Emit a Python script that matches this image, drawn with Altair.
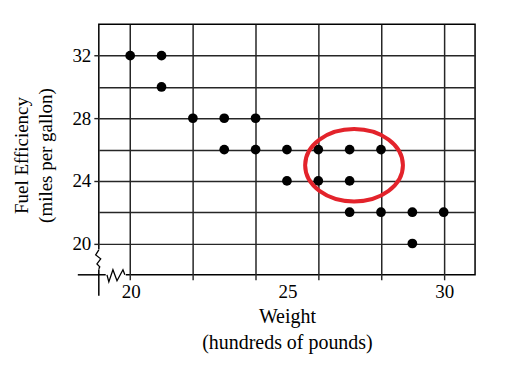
import altair as alt
import pandas as pd

# data points
weight = [20, 21, 21, 22, 23, 24, 23, 24, 25, 26, 27, 28, 25, 26, 27, 27, 28, 29, 30, 29]
mpg = [32, 32, 30, 28, 28, 28, 26, 26, 26, 26, 26, 26, 24, 24, 24, 22, 22, 22, 22, 20]

x_ticks = list(range(20, 31))
x_labels = [20, 25, 30]
y_grid = [20, 22, 24, 26, 28, 30, 32]

# highlighted group (ellipse centre)
ellipse_w = [27.14]
ellipse_m = [25.0]

# axis-break decorations (data units)
ybreak_w = [19, 18.90, 19.06, 18.94, 19.03, 19]
ybreak_m = [19.59, 19.27, 19.02, 18.70, 18.51, 18.38]
xbreak_w = [19.26, 19.32, 19.45, 19.58, 19.77, 19.83]
xbreak_m = [18, 17.55, 18.32, 17.62, 18.32, 18]
# white-out segments
gap_w = [19, 19.22]
gap_w2 = [19, 19.86]
gap_m = [19.62, 18]
gap_m2 = [18.35, 18]
# axis line extensions
ext_w = [19, 18.33]
ext_w2 = [19, 19]
ext_m = [18, 18]
ext_m2 = [16.66, 18]

FONT = "Liberation Serif"

df = pd.DataFrame({"weight": weight, "mpg": mpg})
xs = alt.Scale(domain=[19, 31], nice=False, zero=False)
ys = alt.Scale(domain=[18, 34], nice=False, zero=False)

points = alt.Chart(df).mark_circle(size=95, color="black", opacity=1).encode(
    x=alt.X("weight:Q", scale=xs, axis=alt.Axis(
        values=x_ticks,
        labels=False,
        grid=True, gridColor="#262626", gridWidth=1.5,
        domain=False, ticks=True, tickColor="#222222", tickSize=5, tickWidth=1.4,
        title=["Weight", "(hundreds of pounds)"],
        titleFont=FONT, titleFontSize=20, titleFontWeight="normal", titleColor="black",
        titleLineHeight=26, titleBaseline="alphabetic", titleAlign="center",
        titleX=188.5, titleY=48,
    )),
    y=alt.Y("mpg:Q", scale=ys, axis=alt.Axis(
        values=y_grid,
        labelExpr="datum.value % 4 == 0 ? datum.label : ''",
        labelOverlap=False,
        grid=True, gridColor="#262626", gridWidth=1.5,
        domain=False, ticks=True, tickColor="#222222", tickSize=5, tickWidth=1.4,
        tickOpacity={"condition": {"test": "datum.value % 4 == 0", "value": 1}, "value": 0},
        labelFont=FONT, labelFontSize=19, labelColor="black", labelPadding=3,
        title=["Fuel Efficiency", "(miles per gallon)"],
        titleFont=FONT, titleFontSize=19, titleFontWeight="normal", titleColor="black",
        titleLineHeight=24, titleBaseline="alphabetic", titleAlign="center",
        titleAngle=270, titleX=-71, titleY=131,
    )),
)

lab_df = pd.DataFrame({"weight": x_labels, "txt": [str(v) for v in x_labels]})
xlabels = alt.Chart(lab_df).mark_text(
    font=FONT, fontSize=19, color="black", baseline="top", align="center", dx=1
).encode(
    x=alt.X("weight:Q", scale=xs), y=alt.value(259), text="txt:N"
)

gap_df = pd.DataFrame({"weight": gap_w, "weight2": gap_w2, "mpg": gap_m, "mpg2": gap_m2})
gaps = alt.Chart(gap_df).mark_rule(color="white", strokeWidth=4).encode(
    x=alt.X("weight:Q", scale=xs), x2="weight2:Q",
    y=alt.Y("mpg:Q", scale=ys), y2="mpg2:Q",
)

ext_df = pd.DataFrame({"weight": ext_w, "weight2": ext_w2, "mpg": ext_m, "mpg2": ext_m2})
ext = alt.Chart(ext_df).mark_rule(color="black", strokeWidth=1.5).encode(
    x=alt.X("weight:Q", scale=xs), x2="weight2:Q",
    y=alt.Y("mpg:Q", scale=ys), y2="mpg2:Q",
)

brk_df = pd.DataFrame({
    "weight": ybreak_w + xbreak_w,
    "mpg": ybreak_m + xbreak_m,
    "part": ["y"] * len(ybreak_w) + ["x"] * len(xbreak_w),
    "ord": list(range(len(ybreak_w))) + list(range(len(xbreak_w))),
})
brk = alt.Chart(brk_df).mark_line(color="black", strokeWidth=1.3).encode(
    x=alt.X("weight:Q", scale=xs), y=alt.Y("mpg:Q", scale=ys),
    detail="part:N", order="ord:Q",
)

ell_df = pd.DataFrame({"weight": ellipse_w, "mpg": ellipse_m})
ellipse = alt.Chart(ell_df).mark_point(
    shape="M -1 0 A 1 0.74 0 1 1 1 0 A 1 0.74 0 1 1 -1 0 Z",
    size=9604, filled=False, stroke="#e3232b", strokeWidth=4, opacity=1,
).encode(x=alt.X("weight:Q", scale=xs), y=alt.Y("mpg:Q", scale=ys))

chart = alt.layer(points, xlabels, gaps, ext, brk, ellipse).properties(
    width=377, height=251,
    autosize=alt.AutoSizeParams(type="none"),
    padding={"left": 91, "top": 16, "right": 30, "bottom": 80},
    background="white",
).configure_view(
    stroke="black", strokeWidth=1.5
)

chart.save("out.html", embed_options={"renderer": "svg", "actions": False})
